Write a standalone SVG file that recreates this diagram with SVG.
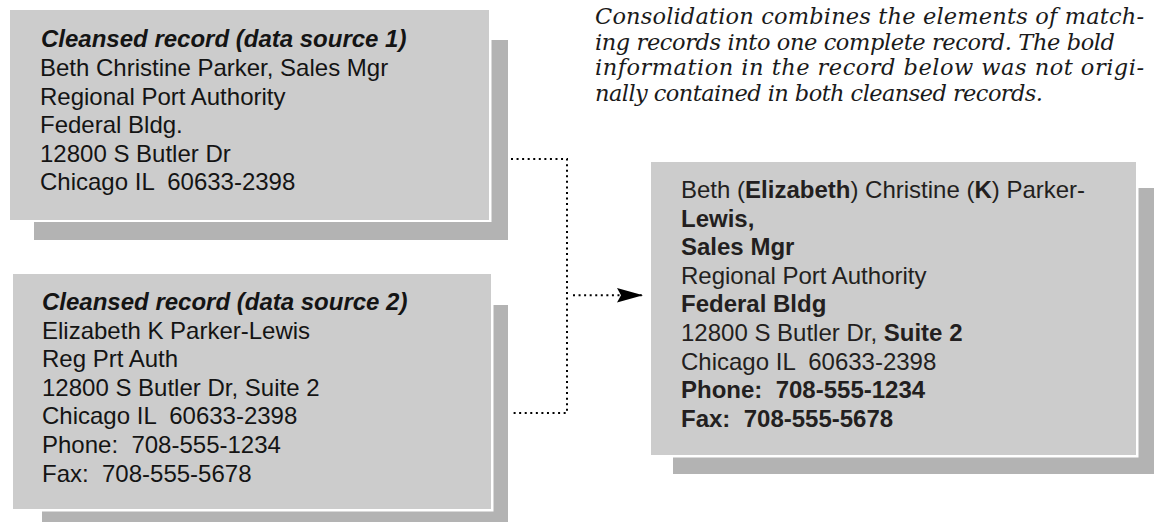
<svg xmlns="http://www.w3.org/2000/svg" width="1160" height="522" viewBox="0 0 1160 522">
<defs>
<style>
.shadow{fill:#b3b3b3}
.edge{fill:#ffffff}
.card{fill:#cccccc}
.t{font-family:"Liberation Sans",Arial,sans-serif;font-size:24px;fill:#141414;white-space:pre}
.c3{fill:#231f20}
.ti{font-weight:bold;font-style:italic}
.b{font-weight:bold}
.note{font-family:"DejaVu Serif","Liberation Serif",serif;font-style:italic;font-size:22.5px;fill:#1a1a1a}
.dot{fill:none;stroke:#000;stroke-width:2;stroke-dasharray:2 3.56}
</style>
<marker id="arrow" markerUnits="userSpaceOnUse" markerWidth="27" markerHeight="15" refX="26" refY="7.2" orient="auto">
<path d="M0,0 L26,7.2 L0,14.4 L4,7.2 Z" fill="#000"/>
</marker>
</defs>
<g id="connectors">
<path class="dot" d="M511,159 H567 V413 H513"/>
<path class="dot" d="M573,295.3 H643" marker-end="url(#arrow)"/>
</g>
<g id="record1">
<rect class="shadow" x="34" y="40" width="474" height="200"/>
<rect class="edge" x="10" y="10" width="481.5" height="212"/>
<rect class="card" x="10" y="10" width="479" height="210"/>
<text class="t ti" x="41" y="47">Cleansed record (data source 1)</text>
<text class="t" x="40" y="76">Beth Christine Parker, Sales Mgr</text>
<text class="t" x="40" y="104.5">Regional Port Authority</text>
<text class="t" x="40" y="133">Federal Bldg.</text>
<text class="t" x="40" y="161.5">12800 S Butler Dr</text>
<text class="t" x="40" y="190" xml:space="preserve">Chicago IL  60633-2398</text>
</g>
<g id="record2">
<rect class="shadow" x="42" y="305" width="466" height="217"/>
<rect class="edge" x="13" y="274" width="480.5" height="237.5"/>
<rect class="card" x="13" y="274" width="478" height="235"/>
<text class="t ti" x="42" y="310">Cleansed record (data source 2)</text>
<text class="t" x="42" y="338.5">Elizabeth K Parker-Lewis</text>
<text class="t" x="42" y="367">Reg Prt Auth</text>
<text class="t" x="42" y="395.7">12800 S Butler Dr, Suite 2</text>
<text class="t" x="42" y="424.3" xml:space="preserve">Chicago IL  60633-2398</text>
<text class="t" x="42" y="453" xml:space="preserve">Phone:  708-555-1234</text>
<text class="t" x="42" y="481.7" xml:space="preserve">Fax:  708-555-5678</text>
</g>
<g id="note">
<text class="note" x="595" y="24.2" textLength="549" lengthAdjust="spacing">Consolidation combines the elements of match-</text>
<text class="note" x="595" y="49.7" textLength="520" lengthAdjust="spacing">ing records into one complete record. The bold</text>
<text class="note" x="595" y="75.2" textLength="549" lengthAdjust="spacing">information in the record below was not origi-</text>
<text class="note" x="595" y="100.7" textLength="448" lengthAdjust="spacing">nally contained in both cleansed records.</text>
</g>
<g id="consolidated">
<rect class="shadow" x="673" y="188" width="481" height="286"/>
<rect class="edge" x="651" y="162" width="487.5" height="295.5"/>
<rect class="card" x="651" y="162" width="485" height="293"/>
<text class="t c3" x="681" y="198.3">Beth (<tspan class="b">Elizabeth</tspan>) Christine (<tspan class="b">K</tspan>) Parker-</text>
<text class="t c3 b" x="681" y="226.7">Lewis,</text>
<text class="t c3 b" x="681" y="255">Sales Mgr</text>
<text class="t c3" x="681" y="283.5">Regional Port Authority</text>
<text class="t c3 b" x="681" y="312.2">Federal Bldg</text>
<text class="t c3" x="681" y="341">12800 S Butler Dr, <tspan class="b">Suite 2</tspan></text>
<text class="t c3" x="681" y="369.7" xml:space="preserve">Chicago IL  60633-2398</text>
<text class="t c3 b" x="681" y="398.3" xml:space="preserve">Phone:  708-555-1234</text>
<text class="t c3 b" x="681" y="427" xml:space="preserve">Fax:  708-555-5678</text>
</g>
</svg>
